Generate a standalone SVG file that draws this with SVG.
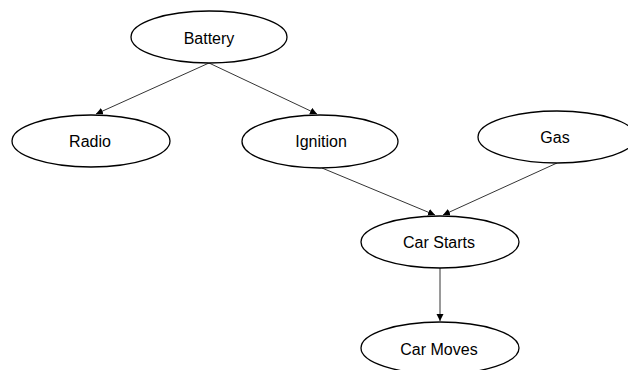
<svg xmlns="http://www.w3.org/2000/svg" width="628" height="370" viewBox="0 0 628 370">
<defs>
<marker id="arr" markerUnits="userSpaceOnUse" markerWidth="8" markerHeight="8" refX="7" refY="3.5" orient="auto">
<path d="M0,0 L7,3.5 L0,7 Z" fill="#000"/>
</marker>
<style>
.node ellipse{fill:#fff;stroke:#000;stroke-width:1.3}
.node text{font-family:"Liberation Sans",Arial,sans-serif;font-size:16px;fill:#000;text-anchor:middle}
.edges line{stroke:#000;stroke-width:0.8;marker-end:url(#arr)}
</style>
</defs>
<rect width="628" height="370" fill="#fff"/>
<g id="edges" class="edges">
<line x1="209" y1="63" x2="96" y2="114"/>
<line x1="209" y1="63" x2="317" y2="114"/>
<line x1="322" y1="168" x2="435" y2="215"/>
<line x1="557" y1="163" x2="443" y2="215"/>
<line x1="440" y1="268" x2="440" y2="321"/>
</g>
<g id="battery" class="node"><ellipse cx="209" cy="37" rx="78" ry="26"/><text x="209" y="44">Battery</text></g>
<g id="radio" class="node"><ellipse cx="91" cy="141" rx="79" ry="26"/><text x="90" y="147">Radio</text></g>
<g id="ignition" class="node"><ellipse cx="320" cy="141.5" rx="78" ry="26.5"/><text x="321" y="147">Ignition</text></g>
<g id="gas" class="node"><ellipse cx="557" cy="137" rx="79" ry="26"/><text x="555" y="143">Gas</text></g>
<g id="carstarts" class="node"><ellipse cx="440" cy="242" rx="79" ry="26"/><text x="439" y="248">Car Starts</text></g>
<g id="carmoves" class="node"><ellipse cx="440" cy="348" rx="79" ry="26"/><text x="439" y="355">Car Moves</text></g>
</svg>
